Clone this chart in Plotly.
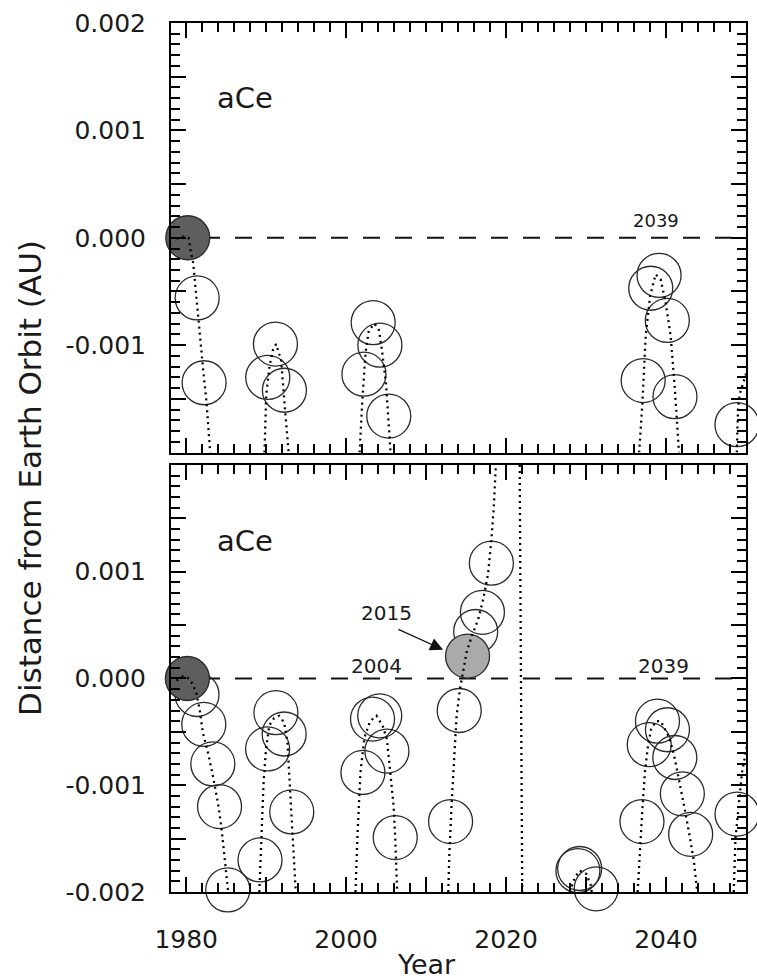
import plotly.graph_objects as go

# ---------------- data ----------------
x_range = [1978.1, 2050]
y_range = [-0.002, 0.002]

x_tickvals = [1980, 1990, 2000, 2010, 2020, 2030, 2040, 2050]
x_ticktext = ["1980", "", "2000", "", "2020", "", "2040", ""]

y_tickvals = [-0.002, -0.0015, -0.001, -0.0005, 0.0, 0.0005, 0.001, 0.0015, 0.002]
top_y_ticktext = ["", "", "-0.001", "", "0.000", "", "0.001", "", "0.002"]
bottom_y_ticktext = ["-0.002", "", "-0.001", "", "0.000", "", "0.001", "", ""]

# top panel: open circles
top_open_x = [1981.37, 1982.24, 1990.2, 1991.16, 1992.28, 2002.23, 2003.38, 2004.22,
              2005.33, 2037.14, 2038.09, 2039.13, 2040.16, 2041.12, 2048.87]
top_open_y = [-0.00056, -0.00135, -0.0013, -0.00099, -0.00142, -0.00127, -0.00079, -0.001,
              -0.00166, -0.00133, -0.00047, -0.00035, -0.00077, -0.00148, -0.00174]
top_dark_x = [1980.2]
top_dark_y = [0.0]

# top panel: dotted trails
top_trails_x = [
    [1978.8, 1979.6, 1980.3, 1980.5, 1980.87, 1981.49, 1982.11, 1982.54, 1982.95, 1983.0],
    [1989.79, 1990.0, 1990.41, 1990.82, 1991.24, 1991.87, 1992.28, 1992.81],
    [2001.69, 2002.01, 2002.44, 2002.85, 2003.56, 2004.1, 2004.5, 2005.0, 2005.55],
    [2036.64, 2037.05, 2037.46, 2038.01, 2038.71, 2039.33, 2039.95, 2040.57, 2041.07, 2041.62],
    [2048.85, 2049.0, 2049.2, 2050.3],
]
top_trails_y = [
    [-0.00001, 0.00001, 0.0, -0.0001, -0.00023, -0.00076, -0.00122, -0.00153, -0.00196, -0.002],
    [-0.002, -0.00147, -0.0012, -0.00105, -0.00099, -0.00114, -0.00153, -0.002],
    [-0.002, -0.00153, -0.00106, -0.00086, -0.0008, -0.00086, -0.00106, -0.00137, -0.002],
    [-0.002, -0.00153, -0.00091, -0.00054, -0.00034, -0.00039, -0.0006, -0.00091, -0.00137, -0.002],
    [-0.002, -0.0016, -0.00146, -0.0012],
]

# bottom panel: open circles
bottom_open_x = [1981.35, 1982.2, 1983.33, 1984.17, 1985.2, 1989.23, 1990.18, 1991.22, 1992.25,
                 1993.2, 2002.1, 2003.3, 2004.2, 2005.1, 2006.14, 2013.06, 2014.14, 2016.2,
                 2017.04, 2018.16, 2028.98, 2029.2, 2031.27, 2036.99, 2037.9, 2038.93, 2040.18,
                 2041.1, 2042.04, 2043.08, 2048.88]
bottom_open_y = [-0.00015, -0.00043, -0.0008, -0.0012, -0.00198, -0.0017, -0.00066, -0.00032,
                 -0.00052, -0.00125, -0.00088, -0.00038, -0.00035, -0.00068, -0.00149, -0.00134,
                 -0.0003, 0.00044, 0.00062, 0.00108, -0.0018, -0.00178, -0.00197, -0.00134,
                 -0.00062, -0.0004, -0.00048, -0.00074, -0.00108, -0.00146, -0.00127]
bottom_dark_x = [1980.15]
bottom_dark_y = [0.0]
bottom_gray_x = [2015.18]
bottom_gray_y = [0.00021]

# bottom panel: dotted trails
bottom_trails_x = [
    [1978.8, 1979.6, 1980.3, 1980.8, 1981.27, 1981.68, 1982.09, 1982.71, 1983.33, 1983.96,
     1984.38, 1984.7, 1985.0, 1985.25],
    [1989.14, 1989.43, 1989.68, 1989.98, 1990.39, 1991.0, 1991.6, 1992.25, 1992.67, 1992.87,
     1993.08, 1993.3, 1993.7],
    [2001.17, 2001.4, 2001.79, 2002.3, 2003.0, 2003.8, 2004.6, 2005.1, 2005.52, 2005.93,
     2006.14, 2006.38],
    [2012.77, 2012.9, 2013.18, 2013.48, 2013.81, 2014.23, 2014.64, 2015.05, 2015.67, 2016.5,
     2017.13, 2017.75, 2018.16, 2018.46, 2018.72],
    [2021.7, 2021.85, 2022.02],
    [2027.95, 2028.57, 2029.19, 2030.02, 2030.56, 2030.72],
    [2036.45, 2036.78, 2037.07, 2037.36, 2037.69, 2038.11, 2038.73, 2039.35, 2040.39, 2041.01,
     2041.63, 2042.25, 2042.87, 2043.5, 2043.9],
    [2048.47, 2048.68, 2049.09, 2049.5, 2050.2],
]
bottom_trails_y = [
    [-0.00002, 0.00002, 0.0, -0.00005, -0.000134, -0.00029, -0.00051, -0.00069, -0.00091,
     -0.00116, -0.00138, -0.00159, -0.00181, -0.002],
    [-0.002, -0.00135, -0.00097, -0.00066, -0.00044, -0.00037, -0.00035, -0.00041, -0.0006,
     -0.00088, -0.00119, -0.0015, -0.002],
    [-0.002, -0.0015, -0.00088, -0.00055, -0.0004, -0.00035, -0.00045, -0.00057, -0.00088,
     -0.00119, -0.0015, -0.002],
    [-0.002, -0.00166, -0.00119, -0.00072, -0.00035, -0.0001, 0.00008, 0.00024, 0.00039,
     0.00055, 0.00074, 0.00098, 0.0013, 0.0016, 0.002],
    [0.002, 0.0, -0.002],
    [-0.002, -0.00187, -0.0018, -0.00183, -0.00193, -0.002],
    [-0.002, -0.0015, -0.00119, -0.00088, -0.00066, -0.00048, -0.0004, -0.0004, -0.00055,
     -0.00072, -0.00094, -0.00119, -0.00144, -0.00172, -0.002],
    [-0.002, -0.0015, -0.00119, -0.00088, -0.0006],
]

# text labels
top_labels = ["aCe", "2039"]
top_labels_x = [1987.35, 2038.75]
top_labels_y = [0.0013, 0.00016]
top_labels_size = [29, 18]

bottom_labels = ["aCe", "2015", "2004", "2039"]
bottom_labels_x = [1987.35, 2005.0, 2003.8, 2039.7]
bottom_labels_y = [0.00129, 0.00061, 0.000117, 0.000115]
bottom_labels_size = [29, 20, 20, 20]

arrow_head = (2012.13, 0.00027)
arrow_tail = (2006.34, 0.000466)

y_title = "Distance from Earth Orbit (AU)"
x_title = "Year"

# ---------------- styling ----------------
FONT = "DejaVu Sans"
INK = "#1a1a1a"
MSIZE = 44

fig = go.Figure()


def add_panel(xa, ya, open_x, open_y, trails_x, trails_y, filled):
    fig.add_trace(go.Scatter(
        x=open_x, y=open_y, mode="markers", xaxis=xa, yaxis=ya, cliponaxis=False,
        marker=dict(symbol="circle", size=MSIZE, color="rgba(0,0,0,0)",
                    line=dict(color="#2a2a2a", width=1.3)),
        showlegend=False, hoverinfo="skip"))
    for fx, fy, col in filled:
        fig.add_trace(go.Scatter(
            x=fx, y=fy, mode="markers", xaxis=xa, yaxis=ya, cliponaxis=False,
            marker=dict(symbol="circle", size=MSIZE, color=col,
                        line=dict(color="#2a2a2a", width=1.3)),
            showlegend=False, hoverinfo="skip"))
    for tx, ty in zip(trails_x, trails_y):
        fig.add_trace(go.Scatter(
            x=tx, y=ty, mode="lines", xaxis=xa, yaxis=ya,
            line=dict(color="#000", width=2.3, dash="2px,4px"),
            showlegend=False, hoverinfo="skip"))


add_panel("x", "y", top_open_x, top_open_y, top_trails_x, top_trails_y,
          [(top_dark_x, top_dark_y, "#5e5e5e")])
add_panel("x2", "y2", bottom_open_x, bottom_open_y, bottom_trails_x, bottom_trails_y,
          [(bottom_dark_x, bottom_dark_y, "#5e5e5e"), (bottom_gray_x, bottom_gray_y, "#aaaaaa")])

# zero dashed lines
for xr, yr in (("x", "y"), ("x2", "y2")):
    fig.add_shape(type="line", xref=xr + " domain", yref=yr, x0=0, x1=1, y0=0, y1=0,
                  layer="below", line=dict(color="#111", width=2, dash="17px,15px"))

tickfont = dict(family=FONT, size=25, color=INK)


def xaxis_cfg(show_labels, anchor):
    return dict(range=x_range, tickmode="array", tickvals=x_tickvals, ticktext=x_ticktext,
                showticklabels=show_labels, ticks="inside", ticklen=15, tickwidth=2,
                tickcolor="black", showline=True, linewidth=2, linecolor="black",
                mirror="allticks", showgrid=False, zeroline=False, anchor=anchor,
                tickfont=tickfont, ticklabelstandoff=24,
                minor=dict(ticks="inside", ticklen=9, tickwidth=2, tickcolor="black",
                           tick0=1980, dtick=2, showgrid=False))


def yaxis_cfg(ticktext, domain, anchor):
    return dict(range=y_range, domain=domain, tickmode="array", tickvals=y_tickvals,
                ticktext=ticktext, ticks="inside", ticklen=15, tickwidth=2,
                tickcolor="black", showline=True, linewidth=2, linecolor="black",
                mirror="allticks", showgrid=False, zeroline=False, anchor=anchor,
                tickfont=tickfont, ticklabelstandoff=18,
                minor=dict(ticks="inside", ticklen=9, tickwidth=2, tickcolor="black",
                           tick0=0, dtick=0.0001, showgrid=False))


annotations = []
for t, x, y, s in zip(top_labels, top_labels_x, top_labels_y, top_labels_size):
    annotations.append(dict(text=t, x=x, y=y, xref="x", yref="y", showarrow=False,
                            font=dict(family=FONT, size=s, color=INK),
                            xanchor="center", yanchor="middle"))
for t, x, y, s in zip(bottom_labels, bottom_labels_x, bottom_labels_y, bottom_labels_size):
    annotations.append(dict(text=t, x=x, y=y, xref="x2", yref="y2", showarrow=False,
                            font=dict(family=FONT, size=s, color=INK),
                            xanchor="center", yanchor="middle"))
annotations.append(dict(text="", x=arrow_head[0], y=arrow_head[1], xref="x2", yref="y2",
                        ax=arrow_tail[0], ay=arrow_tail[1], axref="x2", ayref="y2",
                        showarrow=True, arrowhead=2, arrowsize=2.0, arrowwidth=1.3,
                        arrowcolor="#111", standoff=0))
annotations.append(dict(text=y_title, x=(30 - 171) / 577.0, y=0.477, xref="paper",
                        yref="paper", xanchor="center", yanchor="middle", showarrow=False,
                        textangle=-90, font=dict(family=FONT, size=31, color=INK)))
annotations.append(dict(text=x_title, x=0.445, y=-0.084, xref="paper", yref="paper",
                        xanchor="center", yanchor="middle", showarrow=False,
                        font=dict(family=FONT, size=27, color=INK)))

fig.update_layout(
    width=757, height=979,
    margin=dict(l=171, r=9, t=19, b=87),
    plot_bgcolor="white", paper_bgcolor="white",
    xaxis=xaxis_cfg(False, "y"),
    yaxis=yaxis_cfg(top_y_ticktext, [0.5057, 1.0], "x"),
    xaxis2=xaxis_cfg(True, "y2"),
    yaxis2=yaxis_cfg(bottom_y_ticktext, [0.0, 0.4914], "x2"),
    annotations=annotations,
    showlegend=False,
)

fig.write_html("out.html")
